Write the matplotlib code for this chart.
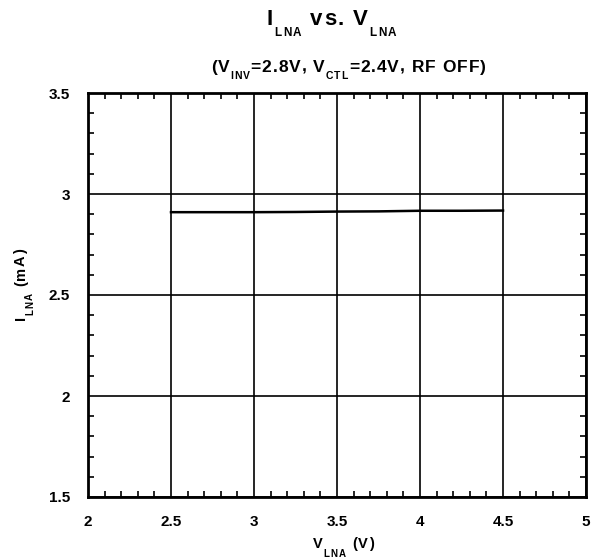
import numpy as np
import matplotlib.pyplot as plt
from matplotlib.ticker import MultipleLocator
from matplotlib.font_manager import FontProperties, findfont
from matplotlib.ft2font import FT2Font

plt.rcParams['font.family'] = ['Liberation Sans', 'DejaVu Sans']
plt.rcParams['font.weight'] = 'bold'

# data
v_lna = [2.5, 2.75, 3.0, 3.25, 3.5, 3.75, 4.0, 4.25, 4.5]
i_lna = [2.910, 2.910, 2.910, 2.911, 2.913, 2.914, 2.917, 2.917, 2.918]

x_ticks = [2, 2.5, 3, 3.5, 4, 4.5, 5]
x_labels = ['2', '2.5', '3', '3.5', '4', '4.5', '5']
y_ticks = [1.5, 2, 2.5, 3, 3.5]
y_labels = ['1.5', '2', '2.5', '3', '3.5']

W, H = 597, 558
fig = plt.figure(figsize=(W / 100, H / 100), dpi=100)
ax = fig.add_axes([88 / W, 61 / H, 498 / W, 404 / H])

ft = FT2Font(findfont(FontProperties(family='Liberation Sans', weight='bold')))


def advance(ch, size):
    ft.set_size(size, 100)
    return ft.load_char(ord(ch)).linearHoriAdvance / 65536


# text with wide letter spacing and low subscripts, placed char by char (pixels)
def rich_text(cx, cy, parts, size, sub_size, drop, track, sub_track, rot=0):
    items = []
    pen = 0
    for s, sub in parts:
        fs = sub_size if sub else size
        for ch in s:
            items.append((pen, ch, fs, drop if sub else 0))
            pen += advance(ch, fs) + (sub_track if sub else track)
    start = -pen / 2
    th = np.deg2rad(rot)
    d = (np.cos(th), np.sin(th))
    n = (np.sin(th), -np.cos(th))
    for off, ch, fs, dr in items:
        if ch == ' ':
            continue
        px = cx + (start + off) * d[0] + dr * n[0]
        py = cy + (start + off) * d[1] + dr * n[1]
        fig.text(px / W, py / H, ch, fontsize=fs, fontweight='bold', rotation=rot,
                 rotation_mode='anchor', ha='left', va='baseline')


ax.plot(v_lna, i_lna, color='black', linewidth=1.8)

ax.set_xlim(2, 5)
ax.set_ylim(1.5, 3.5)
ax.set_xticks(x_ticks)
ax.set_xticklabels(x_labels)
ax.set_yticks(y_ticks)
ax.set_yticklabels(y_labels)
ax.xaxis.set_minor_locator(MultipleLocator(0.1))
ax.yaxis.set_minor_locator(MultipleLocator(0.1))
ax.tick_params(which='both', direction='in', top=True, right=True, labelsize=11, width=1.2)
ax.tick_params(which='major', length=0, pad=13)
ax.tick_params(which='minor', length=4)
ax.grid(True, which='major', color='black', linewidth=1.2)
for s in ax.spines.values():
    s.set_linewidth(2)

# title, subtitle, axis labels
rich_text(332, H - 25, [('I', False), ('LNA', True), (' vs. V', False), ('LNA', True)],
          16, 8.5, 11, 1.5, 1.2)
rich_text(349, H - 72, [('(V', False), ('INV', True), ('=2.8V, V', False), ('CTL', True),
                        ('=2.4V, RF OFF)', False)], 12.5, 7.5, 7, 1.0, 1.0)
rich_text(344, H - 548, [('V', False), ('LNA', True), (' (V)', False)], 10.5, 7, 9, 1.2, 1.0)
rich_text(25, H - 284, [('I', False), ('LNA', True), (' (mA)', False)], 10.5, 7, 8, 1.2, 1.0,
          rot=90)

plt.savefig('out.png', dpi=100)
